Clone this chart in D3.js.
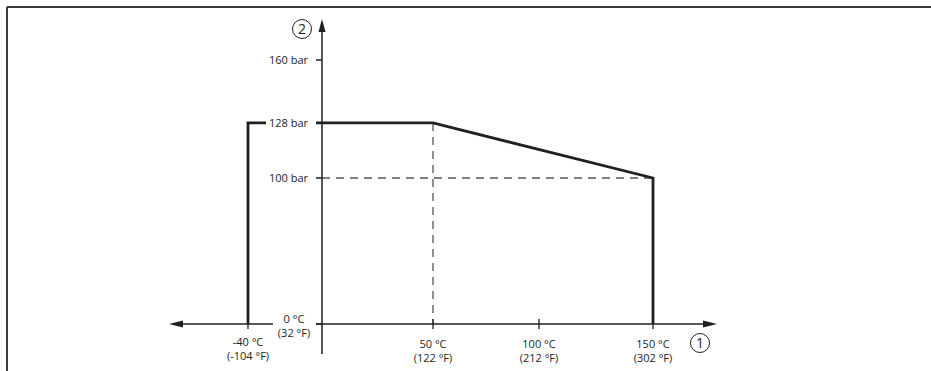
<!DOCTYPE html>
<html>
<head>
<meta charset="utf-8">
<script src="https://cdn.jsdelivr.net/npm/d3@7"></script>
<style>
  body { margin: 0; background: #fff; }
  text { font-family: "Open Sans", sans-serif; font-size: 11px; fill: #231f20; }
</style>
</head>
<body>
<div id="chart"></div>
<script>
// Data (schematic axes, not linear)
var tempTicks = [-40, 50, 100, 150];
var tempC = ["-40 °C", "50 °C", "100 °C", "150 °C"];
var tempF = ["(-104 °F)", "(122 °F)", "(212 °F)", "(302 °F)"];
var pressTicks = [100, 128, 160];
var pressLabels = ["100 bar", "128 bar", "160 bar"];
var curveTemp = [-40, -40, 50, 150, 150];
var curvePress = [0, 128, 128, 100, 0];

var width = 931, height = 371;
var ink = "#231f20";

var svg = d3.select("#chart").append("svg")
    .attr("width", width)
    .attr("height", height);

// piecewise scales: the drawing is schematic
var x = d3.scaleLinear().domain([-40, 0, 50, 100, 150]).range([248, 322, 433, 539, 653]);
var y = d3.scaleLinear().domain([0, 100, 160]).range([324, 178, 60]);

// frame
svg.append("line").attr("x1", 7).attr("x2", width).attr("y1", 7).attr("y2", 7)
    .attr("stroke", "#3a3a3a").attr("stroke-width", 2);
svg.append("line").attr("x1", 7).attr("x2", 7).attr("y1", 7).attr("y2", height)
    .attr("stroke", "#3a3a3a").attr("stroke-width", 2);

// dashed guides
svg.append("line")
    .attr("x1", x(0)).attr("x2", x(150)).attr("y1", y(100)).attr("y2", y(100))
    .attr("stroke", "#555").attr("stroke-width", 1.3).attr("stroke-dasharray", "8,6");
svg.append("line")
    .attr("x1", x(50)).attr("x2", x(50)).attr("y1", y(128)).attr("y2", y(0))
    .attr("stroke", "#555").attr("stroke-width", 1.3).attr("stroke-dasharray", "8,6");

// axes lines
svg.append("line").attr("x1", 176).attr("x2", 706).attr("y1", y(0)).attr("y2", y(0))
    .attr("stroke", ink).attr("stroke-width", 1.5);
svg.append("line").attr("x1", x(0)).attr("x2", x(0)).attr("y1", 30).attr("y2", 354)
    .attr("stroke", ink).attr("stroke-width", 1.5);

// arrow heads
svg.append("path").attr("d", "M" + 717 + "," + y(0) + "l-14,-3.5l0,7z").attr("fill", ink);
svg.append("path").attr("d", "M" + 169 + "," + y(0) + "l14,-3.5l0,7z").attr("fill", ink);
svg.append("path").attr("d", "M" + x(0) + ",19l-3.5,13l7,0z").attr("fill", ink);

// curve
var line = d3.line().x(function(d){return x(d[0]);}).y(function(d){return y(d[1]);});
svg.append("path")
    .datum(d3.zip(curveTemp, curvePress))
    .attr("d", line)
    .attr("fill", "none")
    .attr("stroke", ink)
    .attr("stroke-width", 2.8)
    .attr("stroke-linejoin", "miter");

// y ticks and labels
var yg = svg.append("g");
pressTicks.forEach(function(p, i){
    yg.append("rect").attr("x", 266).attr("y", y(p) - 6).attr("width", 50).attr("height", 12).attr("fill", "#fff");
    yg.append("line").attr("x1", x(0) - 6).attr("x2", x(0)).attr("y1", y(p)).attr("y2", y(p))
        .attr("stroke", ink).attr("stroke-width", 1.5);
    yg.append("text").attr("x", 308).attr("y", y(p)).attr("dy", "0.35em")
        .attr("text-anchor", "end").text(pressLabels[i]);
});

// x ticks and labels
var xg = svg.append("g");
tempTicks.forEach(function(t, i){
    xg.append("line").attr("x1", x(t)).attr("x2", x(t)).attr("y1", y(0) - 5).attr("y2", y(0) + 5)
        .attr("stroke", ink).attr("stroke-width", 1.3);
    var ly = t < 0 ? 342 : 344;
    xg.append("text").attr("x", x(t)).attr("y", ly).attr("dy", "0.35em")
        .attr("text-anchor", "middle").text(tempC[i]);
    xg.append("text").attr("x", x(t)).attr("y", ly + 14).attr("dy", "0.35em")
        .attr("text-anchor", "middle").text(tempF[i]);
});

// origin label masks the axis
svg.append("rect").attr("x", 273).attr("y", y(0) - 3).attr("width", 43).attr("height", 6).attr("fill", "#fff");
svg.append("line").attr("x1", x(0) - 6).attr("x2", x(0)).attr("y1", y(0)).attr("y2", y(0))
    .attr("stroke", ink).attr("stroke-width", 1.5);
svg.append("text").attr("x", 294).attr("y", 319).attr("dy", "0.35em").attr("text-anchor", "middle").text("0 °C");
svg.append("text").attr("x", 294).attr("y", 333).attr("dy", "0.35em").attr("text-anchor", "middle").text("(32 °F)");

// circled axis markers
function marker(cx, cy, label){
    svg.append("circle").attr("cx", cx).attr("cy", cy).attr("r", 9.5)
        .attr("fill", "none").attr("stroke", ink).attr("stroke-width", 1);
    svg.append("text").attr("x", cx).attr("y", cy).attr("dy", "0.36em")
        .attr("text-anchor", "middle").style("font-size", "14px").text(label);
}
marker(302, 29, "2");
marker(700, 343, "1");
</script>
</body>
</html>
